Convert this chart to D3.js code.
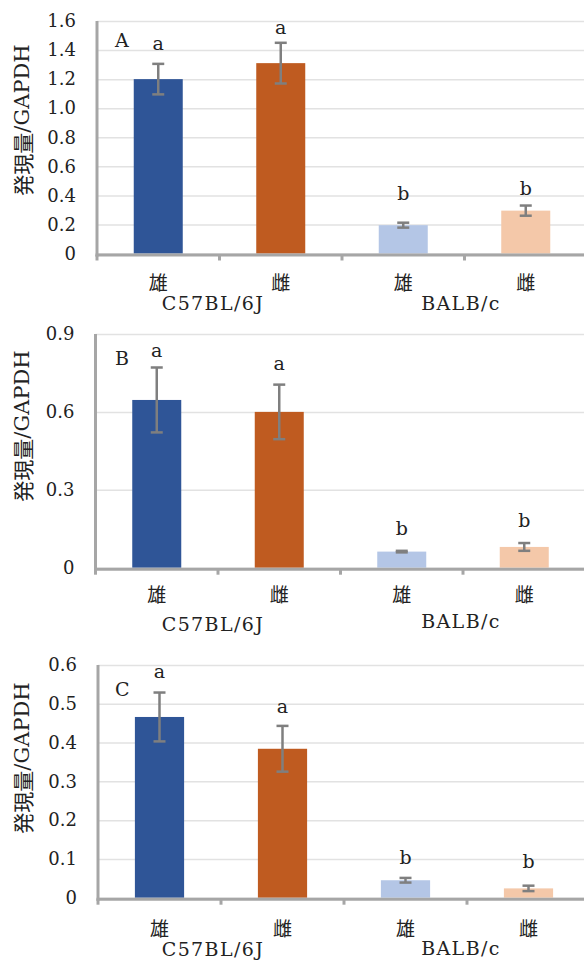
<!DOCTYPE html>
<html>
<head>
<meta charset="utf-8">
<script src="https://cdn.jsdelivr.net/npm/d3@7"></script>
<style>
  body { margin: 0; background: #fff; }
  svg { display: block; }
</style>
</head>
<body>
<svg id="chart" width="584" height="966"></svg>
<script>
// data
const categories = ["雄", "雌", "雄", "雌"];
const strains = ["C57BL/6J", "BALB/c"];
const panelNames = ["A", "B", "C"];
const sigLetters = ["a", "a", "b", "b"];

const valuesA = [1.20, 1.31, 0.195, 0.295];
const errorsA = [0.105, 0.14, 0.017, 0.035];
const sigPosA = [1.40, 1.51, 0.37, 0.40];
const ticksA = [0, 0.2, 0.4, 0.6, 0.8, 1.0, 1.2, 1.4, 1.6];

const valuesB = [0.646, 0.60, 0.062, 0.08];
const errorsB = [0.125, 0.105, 0.003, 0.015];
const sigPosB = [0.81, 0.76, 0.126, 0.158];
const ticksB = [0, 0.3, 0.6, 0.9];

const valuesC = [0.466, 0.384, 0.045, 0.024];
const errorsC = [0.063, 0.059, 0.006, 0.007];
const sigPosC = [0.566, 0.477, 0.087, 0.076];
const ticksC = [0, 0.1, 0.2, 0.3, 0.4, 0.5, 0.6];

const barColors = ["#2f5597", "#bf5b20", "#b4c6e6", "#f4c8a9"];
const serif = "'DejaVu Serif', serif";
const cjk = "'Noto Sans CJK JP', sans-serif";

// layout of each panel (pixels)
const layout = [
  {x0: 97, step: 122.5, top: 21, base: 253.5, catY: 281.5, strainY: [303, 302.5], strainX: [213, 461], titleY: 120, letterY: 47},
  {x0: 95.5, step: 122.5, top: 334, base: 567.7, catY: 593, strainY: [624, 620.5], strainX: [213, 461], titleY: 426, letterY: 365},
  {x0: 98, step: 123, top: 665, base: 897.7, catY: 927, strainY: [949, 947.5], strainX: [213, 461], titleY: 758, letterY: 696}
];

const panels = [
  {values: valuesA, errors: errorsA, sigPos: sigPosA, ticks: ticksA},
  {values: valuesB, errors: errorsB, sigPos: sigPosB, ticks: ticksB},
  {values: valuesC, errors: errorsC, sigPos: sigPosC, ticks: ticksC}
];

const svg = d3.select("#chart");
const fmt = d => d === 0 ? "0" : d3.format(".1f")(d);

panels.forEach((p, k) => {
  const L = layout[k];
  const g = svg.append("g");
  const width = L.step * 4;

  const x = d3.scaleBand().domain(d3.range(4))
    .range([L.x0, L.x0 + width]).paddingInner(0.6).paddingOuter(0.3);
  const y = d3.scaleLinear().domain([0, d3.max(p.ticks)]).range([L.base, L.top]);

  // gridlines + tick labels
  const yAxis = g.append("g").attr("transform", `translate(${L.x0},0)`)
    .call(d3.axisLeft(y).tickValues(p.ticks).tickFormat(fmt).tickSize(-width).tickPadding(21));
  yAxis.select(".domain").remove();
  yAxis.selectAll(".tick line").attr("stroke", "#e2e2e2").attr("stroke-width", 1.5);
  yAxis.selectAll(".tick text")
    .attr("fill", "#222").style("font-family", serif).style("font-size", "18px");

  // bars
  g.selectAll(".bar").data(p.values).join("rect")
    .attr("x", (d, i) => x(i))
    .attr("y", d => y(d))
    .attr("width", x.bandwidth())
    .attr("height", d => y(0) - y(d))
    .attr("fill", (d, i) => barColors[i]);

  // error bars
  const eb = g.selectAll(".err").data(p.values).join("g")
    .attr("stroke", "#7f7f7f").attr("stroke-width", 2.5);
  const cx = i => x(i) + x.bandwidth() / 2;
  eb.append("line")
    .attr("x1", (d, i) => cx(i)).attr("x2", (d, i) => cx(i))
    .attr("y1", (d, i) => y(d + p.errors[i])).attr("y2", (d, i) => y(d - p.errors[i]));
  [1, -1].forEach(s => {
    eb.append("line")
      .attr("x1", (d, i) => cx(i) - 6).attr("x2", (d, i) => cx(i) + 6)
      .attr("y1", (d, i) => y(d + s * p.errors[i])).attr("y2", (d, i) => y(d + s * p.errors[i]));
  });

  // significance letters
  g.selectAll(".sig").data(p.sigPos).join("text")
    .attr("x", (d, i) => cx(i)).attr("y", d => y(d))
    .attr("text-anchor", "middle").attr("fill", "#222")
    .style("font-family", serif).style("font-size", "19px")
    .text((d, i) => sigLetters[i]);

  // axes lines
  g.append("line").attr("x1", L.x0).attr("x2", L.x0)
    .attr("y1", L.top).attr("y2", L.base + 3)
    .attr("stroke", "#a6a6a6").attr("stroke-width", 3);
  g.append("line").attr("x1", L.x0 - 1.5).attr("x2", L.x0 + width)
    .attr("y1", L.base + 1.5).attr("y2", L.base + 1.5)
    .attr("stroke", "#a6a6a6").attr("stroke-width", 3);
  g.selectAll(".xt").data(d3.range(5)).join("line")
    .attr("x1", i => L.x0 + i * x.step()).attr("x2", i => L.x0 + i * x.step())
    .attr("y1", L.base + 1.5).attr("y2", L.base + 7)
    .attr("stroke", "#a6a6a6").attr("stroke-width", 3);

  // category labels
  g.selectAll(".cat").data(categories).join("text")
    .attr("x", (d, i) => cx(i)).attr("y", L.catY)
    .attr("text-anchor", "middle").attr("dominant-baseline", "central")
    .attr("fill", "#222").style("font-family", cjk).style("font-size", "19px")
    .text(d => d);

  // strain labels
  g.selectAll(".strain").data(strains).join("text")
    .attr("x", (d, i) => L.strainX[i]).attr("y", (d, i) => L.strainY[i])
    .attr("text-anchor", "middle").attr("dominant-baseline", "central")
    .attr("fill", "#222").style("font-family", serif).style("font-size", "19px")
    .style("letter-spacing", "1.4px")
    .text(d => d);

  // panel letter
  g.append("text").attr("x", 115).attr("y", L.letterY)
    .attr("fill", "#222").style("font-family", serif).style("font-size", "19px")
    .text(panelNames[k]);

  // y title
  const t = g.append("text")
    .attr("transform", `translate(22,${L.titleY}) rotate(-90)`)
    .attr("text-anchor", "middle").attr("dominant-baseline", "central")
    .attr("fill", "#222").style("font-size", "21px");
  t.append("tspan").style("font-family", cjk).text("発現量");
  t.append("tspan").style("font-family", serif).text("/GAPDH");
});
</script>
</body>
</html>
